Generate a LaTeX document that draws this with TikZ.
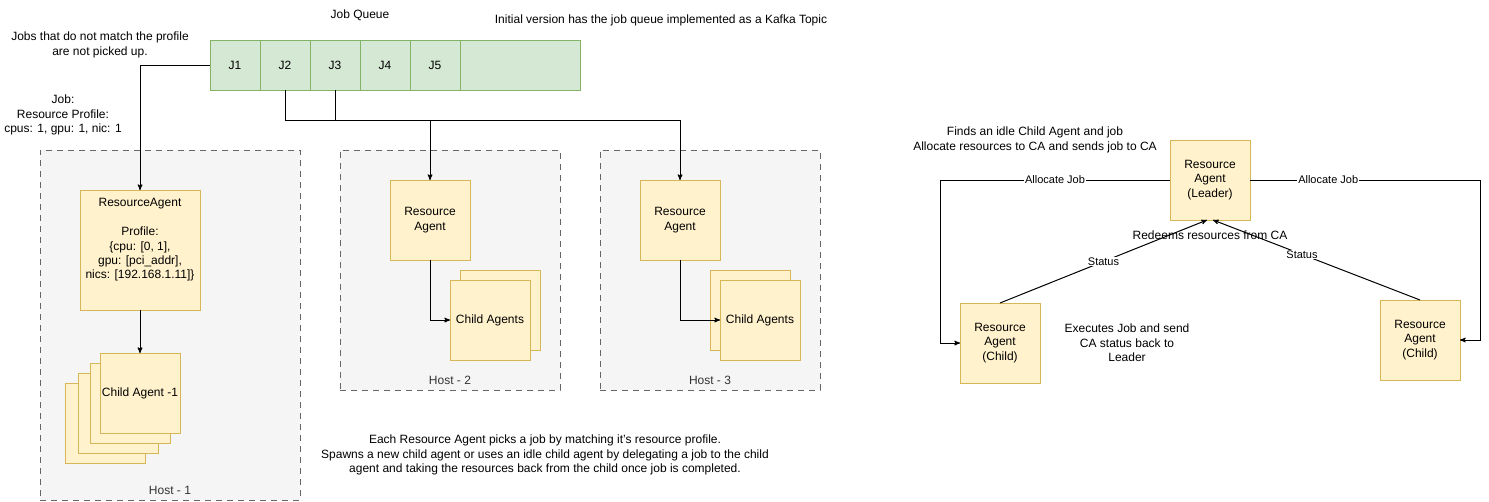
\documentclass[tikz,border=0pt]{standalone}
\usepackage{fontspec}
\setmainfont{Liberation Sans}
\usetikzlibrary{arrows,positioning}

\definecolor{qfill}{HTML}{D5E8D4}
\definecolor{qline}{HTML}{82B366}
\definecolor{afill}{HTML}{FFF2CC}
\definecolor{aline}{HTML}{D6B656}
\definecolor{hfill}{HTML}{F5F5F5}
\definecolor{hline}{HTML}{666666}
\definecolor{htext}{HTML}{333333}

\begin{document}
\begin{tikzpicture}[->,>=stealth',x=1pt,y=-1pt,line width=1pt,
    font=\fontsize{12}{14.4}\selectfont,
    cell/.style={draw=qline,fill=qfill,minimum width=50pt,minimum height=50pt,inner sep=0pt,outer sep=0pt},
    agent/.style={draw=aline,fill=afill,minimum width=80pt,minimum height=80pt,inner sep=1pt,outer sep=0pt,align=center},
    host/.style={draw=hline,fill=hfill,dash pattern=on 6pt off 5pt,minimum width=220pt,minimum height=240pt,outer sep=0pt},
    hostlabel/.style={text=htext},
    note/.style={align=center},
    elabel/.style={fill=white,inner sep=1pt,font=\fontsize{11}{13}\selectfont}]

    \useasboundingbox (0,0) rectangle (1489,501);

    % hosts
    \node (h1) [host,minimum width=260pt,minimum height=350pt] at (170,325) {};
    \node (h2) [host] at (450,270) {};
    \node (h3) [host] at (710,270) {};
    \foreach \h/\t in {h1/1,h2/2,h3/3}
        \node [hostlabel] at ([yshift=10pt]\h.south) {Host - \t};

    % job queue
    \node (j1) [cell] at (235,65) {J1};
    \node (j2) [cell,right=0pt of j1] {J2};
    \node (j3) [cell,right=0pt of j2] {J3};
    \node (j4) [cell,right=0pt of j3] {J4};
    \node (j5) [cell,right=0pt of j4] {J5};
    \node (jq) [cell,right=0pt of j5,minimum width=120pt] {};
    \node (qt) at (360,15) {Job Queue};

    % host 1
    \node (ra1) [agent,minimum width=120pt,minimum height=120pt] at (140,250) {};
    \node (ra1t) [note] at ([yshift=10pt]ra1.center)
        {ResourceAgent\\[14.4pt]Profile:\\\{cpu: [0, 1],\\gpu: [pci\_addr],\\nics: [192.168.1.11]\}};
    \foreach \p in {(105,423),(118,413),(130,403)}
        \node [agent] at \p {};
    \node (ca1) [agent] at (140,393) {Child Agent -1};

    % host 2
    \node (ra2) [agent] at (430,220) {Resource\\Agent};
    \node [agent] at (500,310) {};
    \node (ca2) [agent] at (490,320) {Child Agents};

    % host 3
    \node (ra3) [agent] at (680,220) {Resource\\Agent};
    \node [agent] at (750,310) {};
    \node (ca3) [agent] at (760,320) {Child Agents};

    \draw (j1.west) -| (ra1.north);
    \draw (j2.south) -- ++(0,30) -| (ra2.north);
    \draw (j3.south) -- ++(0,30) -| (ra3.north);
    \path (ra1) edge (ca1);
    \draw (ra2.south) |- (ca2.west);
    \draw (ra3.south) |- (ca3.west);

    % notes
    \node (n1) [note] at (100,45) {Jobs that do not match the profile\\are not picked up.};
    \node (n2) [note] at (63,115) {Job:\\Resource Profile:\\cpus: 1, gpu: 1, nic: 1};
    \node (n3) at (661,20) {Initial version has the job queue implemented as a Kafka Topic};
    \node (n4) [note] at (545,455) {Each Resource Agent picks a job by matching it's resource profile.\\Spawns a new child agent or uses an idle child agent by delegating a job to the child\\agent and taking the resources back from the child once job is completed.};

    % leader and children
    \node (lead) [agent] at (1210,180) {Resource\\Agent\\(Leader)};
    \node (ch1) [agent] at (1000,343) {Resource\\Agent\\(Child)};
    \node (ch2) [agent] at (1420,340) {Resource\\Agent\\(Child)};

    \draw (lead.west) -- ++(-230,0) node[elabel,pos=0.5] {Allocate Job} |- (ch1.west);
    \draw (lead.east) -- ++(230,0) node[elabel,pos=0.34] {Allocate Job} |- (ch2.east);
    \draw (ch1.north) -- node[elabel,pos=0.5] {Status} ([xshift=-3pt]lead.south);
    \draw (ch2.north) -- node[elabel,pos=0.57] {Status} ([xshift=3pt]lead.south);

    \node (n5) at (1210,235) {Redeems resources from CA};
    \node (n6) [note] at (1035,140) {Finds an idle Child Agent and job\\Allocate resources to CA and sends job to CA};
    \node (n7) [note] at (1127,343) {Executes Job and send\\CA status back to\\Leader};

\end{tikzpicture}
\end{document}
